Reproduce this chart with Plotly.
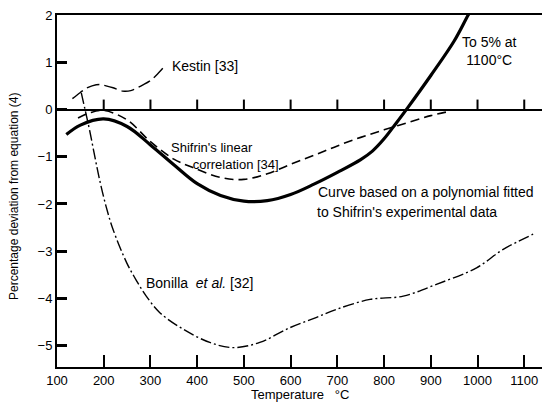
import plotly.graph_objects as go

# ---- data ----
kestin_t = [133, 150, 163, 175, 191, 205, 220, 241, 258, 270, 284, 298, 312, 327]
kestin_d = [0.23, 0.36, 0.45, 0.50, 0.53, 0.50, 0.46, 0.39, 0.40, 0.45, 0.52, 0.60, 0.72, 0.88]

shifrin_lin_t = [145, 170, 200, 250, 300, 350, 391, 450, 500, 550, 600, 650, 700, 750, 800, 850, 900, 940]
shifrin_lin_d = [-0.18, -0.07, -0.02, -0.22, -0.68, -1.05, -1.23, -1.44, -1.48, -1.36, -1.16, -0.97, -0.77, -0.59, -0.43, -0.28, -0.13, -0.04]

poly_t = [120, 150, 200, 250, 300, 350, 400, 450, 500, 550, 600, 650, 700, 750, 775, 800, 825, 850, 900, 950, 980, 1000]
poly_d = [-0.53, -0.33, -0.20, -0.36, -0.75, -1.17, -1.57, -1.82, -1.94, -1.93, -1.80, -1.58, -1.33, -1.06, -0.88, -0.62, -0.30, 0.03, 0.72, 1.45, 2.00, 2.35]

bonilla_t = [152, 160, 170, 180, 191, 205, 220, 249, 270, 291, 320, 370, 427, 477, 534, 598, 650, 698, 770, 841, 912, 998, 1055, 1119]
bonilla_d = [0.35, 0.00, -0.45, -0.95, -1.48, -2.05, -2.54, -3.24, -3.62, -3.95, -4.30, -4.65, -4.93, -5.04, -4.93, -4.62, -4.42, -4.23, -4.02, -3.95, -3.70, -3.35, -2.96, -2.64]

x_ticks = [100, 200, 300, 400, 500, 600, 700, 800, 900, 1000, 1100]
y_ticks = [2, 1, 0, -1, -2, -3, -4, -5]
x_range = [100, 1138]
y_range = [-5.45, 2]
zero_tick_height = 0.21  # upward tick marks on the zero line, in y units

FONT = "Liberation Sans"
TICK = "black"

fig = go.Figure()
fig.add_trace(go.Scatter(x=kestin_t, y=kestin_d, mode="lines", line=dict(color="black", width=1.4, dash="13px,5px", shape="spline"), showlegend=False))
fig.add_trace(go.Scatter(x=shifrin_lin_t, y=shifrin_lin_d, mode="lines", line=dict(color="black", width=1.6, dash="9px,5px", shape="spline"), showlegend=False))
fig.add_trace(go.Scatter(x=poly_t, y=poly_d, mode="lines", line=dict(color="black", width=3.2, shape="spline", smoothing=1.0), showlegend=False))
fig.add_trace(go.Scatter(x=bonilla_t, y=bonilla_d, mode="lines", line=dict(color="black", width=1.4, dash="11px,3px,2px,3px", shape="spline"), showlegend=False))
zt = x_ticks[1:]
fig.add_trace(go.Scatter(x=zt, y=[0] * len(zt), mode="markers",
                         marker=dict(size=1, color="rgba(0,0,0,0)"),
                         error_y=dict(type="data", symmetric=False, array=[zero_tick_height] * len(zt),
                                      arrayminus=[0] * len(zt), width=0, thickness=2, color=TICK),
                         showlegend=False, hoverinfo="skip"))

fig.update_layout(
    width=542, height=402,
    margin=dict(l=57, r=0, t=15, b=35),
    paper_bgcolor="white", plot_bgcolor="white",
    font=dict(family=FONT, size=13, color="black"),
    xaxis=dict(range=x_range, tickvals=x_ticks, ticktext=[str(v) for v in x_ticks],
               showgrid=False, zeroline=False, showline=True, linecolor="black", linewidth=2,
               mirror=True, ticks="inside", ticklen=12, tickwidth=2, tickcolor=TICK,
               tickfont=dict(size=13)),
    yaxis=dict(range=y_range, tickvals=y_ticks, showgrid=False, zeroline=True,
               zerolinecolor="black", zerolinewidth=1.8,
               showline=True, linecolor="black", linewidth=2, ticks="inside", ticklen=10,
               tickwidth=2.5, tickcolor=TICK, tickfont=dict(size=13)),
)

ann = dict(xref="x", yref="y", showarrow=False, font=dict(family=FONT, size=14, color="black"))
fig.add_annotation(x=342, y=0.92, text="Kestin [33]", xanchor="left", yanchor="middle", **ann)
fig.add_annotation(x=339, y=-0.99, text="Shifrin's linear<br>&nbsp;&nbsp;&nbsp;&nbsp;&nbsp;&nbsp;correlation [34]",
                   xanchor="left", yanchor="middle", align="left", xref="x", yref="y", showarrow=False,
                   font=dict(family=FONT, size=13, color="black"))
fig.add_annotation(x=655, y=-1.74, text="Curve based on a polynomial fitted", xanchor="left", yanchor="middle", **ann)
fig.add_annotation(x=652, y=-2.16, text="to Shifrin's experimental data", xanchor="left", yanchor="middle", **ann)
fig.add_annotation(x=1026, y=1.24, text="To 5% at<br>1100°C", xanchor="center", yanchor="middle", align="center", **ann)
fig.add_annotation(x=286, y=-3.68, text="Bonilla  <i>et al.</i> [32]", xanchor="left", yanchor="middle", **ann)

fig.add_annotation(xref="paper", yref="paper", x=0.5, y=0, yshift=-27, text="Temperature   °C",
                   showarrow=False, xanchor="center", yanchor="middle", font=dict(family=FONT, size=13))
fig.add_annotation(xref="paper", yref="paper", x=0, xshift=-43, y=0.483, text="Percentage deviation from equation (4)",
                   textangle=-90, showarrow=False, xanchor="center", yanchor="middle", font=dict(family=FONT, size=12))

fig.write_html("out.html")
